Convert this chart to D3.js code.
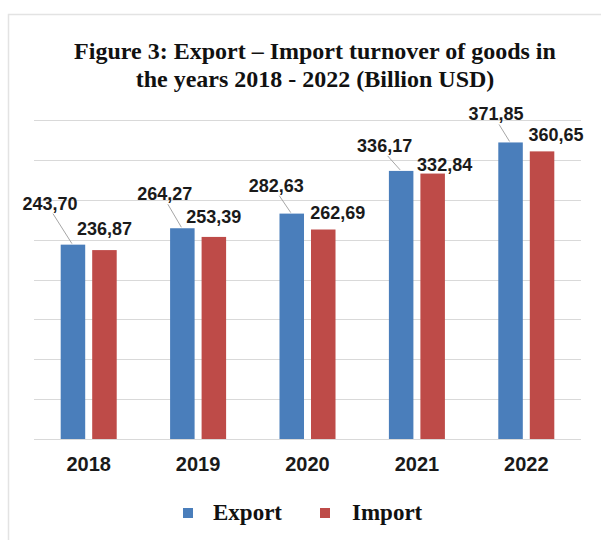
<!DOCTYPE html>
<html>
<head>
<meta charset="utf-8">
<script src="https://cdn.jsdelivr.net/npm/d3@7"></script>
<style>
  html, body { margin: 0; padding: 0; background: #fff; }
  svg { display: block; }
</style>
</head>
<body>
<svg id="chart" width="601" height="540"></svg>
<script>
// ---- data ----
const years = ["2018", "2019", "2020", "2021", "2022"];
const seriesNames = ["Export", "Import"];
const exportValues = [243.70, 264.27, 282.63, 336.17, 371.85];
const importValues = [236.87, 253.39, 262.69, 332.84, 360.65];
const yTicks = [0, 50, 100, 150, 200, 250, 300, 350, 400];
const titleLines = ["Figure 3: Export \u2013 Import turnover of goods in", "the years 2018 - 2022 (Billion USD)"];

// ---- layout (label nudges relative to bar top-centre, hand placed in the original) ----
const exportNudgeX = [-23, -17.5, -15.5, -16.5, -14.5];
const exportNudgeY = [-35, -28, -22, -19, -22];
const importNudgeX = [0, 0, 14.5, 12, 14];
const importNudgeY = [-15, -14, -11, -3, -10];

const colors = { Export: "#4a7ebb", Import: "#be4b48" };
const svg = d3.select("#chart");

// frame
svg.append("rect").attr("x", 8.5).attr("y", 14.5).attr("width", 620).attr("height", 560)
  .attr("fill", "none").attr("stroke", "#e3e3e3").attr("stroke-width", 1.5);

// title
svg.append("g").selectAll("text").data(titleLines).join("text")
  .attr("x", 315).attr("y", (d, i) => 59 + i * 28)
  .attr("text-anchor", "middle")
  .attr("font-family", "'Liberation Serif', 'Times New Roman', serif")
  .attr("font-weight", "bold").attr("font-size", 24).attr("fill", "#111")
  .text(d => d);

// scales
const x0 = d3.scaleBand().domain(years).range([34, 581]).paddingInner(0.488).paddingOuter(0.244);
const x1 = d3.scaleBand().domain(seriesNames).range([0, x0.bandwidth()]).paddingInner(0.222);
const y = d3.scaleLinear().domain([0, 400]).range([439, 120]);

// gridlines
svg.append("g").selectAll("line").data(yTicks).join("line")
  .attr("x1", 34).attr("x2", 581)
  .attr("y1", d => Math.round(y(d)) + 0.5).attr("y2", d => Math.round(y(d)) + 0.5)
  .attr("stroke", "#d9d9d9").attr("stroke-width", 1.2);

const rows = years.map((yr, i) => ({ year: yr, i, Export: exportValues[i], Import: importValues[i] }));

// bars
const groups = svg.append("g").selectAll("g").data(rows).join("g")
  .attr("transform", d => `translate(${x0(d.year)},0)`);
groups.selectAll("rect").data(d => seriesNames.map(s => ({ s, v: d[s] }))).join("rect")
  .attr("x", d => x1(d.s)).attr("width", x1.bandwidth())
  .attr("y", d => y(d.v)).attr("height", d => y(0) - y(d.v))
  .attr("fill", d => colors[d.s]);

// x axis labels
const xAxis = svg.append("g").attr("transform", "translate(0,439)")
  .call(d3.axisBottom(x0).tickSize(0).tickPadding(0));
xAxis.select(".domain").remove();
xAxis.selectAll("text")
  .attr("y", 32).attr("dy", null)
  .attr("font-family", "'Liberation Sans', Arial, sans-serif")
  .attr("font-weight", "bold").attr("font-size", 20).attr("fill", "#1a1a1a");

const fmt = v => v.toFixed(2).replace(".", ",");
const labelFont = "'Liberation Sans', Arial, sans-serif";

// export labels with leader lines
rows.forEach(d => {
  const cx = x0(d.year) + x1("Export") + x1.bandwidth() / 2;
  const top = y(d.Export);
  const lx = cx + exportNudgeX[d.i];
  const ly = top + exportNudgeY[d.i];
  svg.append("line").attr("x1", lx + 3).attr("y1", ly + 4).attr("x2", cx - 1).attr("y2", top - 1)
    .attr("stroke", "#a6a6a6").attr("stroke-width", 1);
  svg.append("text").attr("x", lx).attr("y", ly).attr("text-anchor", "middle")
    .attr("font-family", labelFont).attr("font-weight", "bold").attr("font-size", 18).attr("fill", "#1a1a1a")
    .text(fmt(d.Export));

  const ix = x0(d.year) + x1("Import") + x1.bandwidth() / 2;
  const itop = y(d.Import);
  svg.append("text").attr("x", ix + importNudgeX[d.i]).attr("y", itop + importNudgeY[d.i])
    .attr("text-anchor", "middle")
    .attr("font-family", labelFont).attr("font-weight", "bold").attr("font-size", 18).attr("fill", "#1a1a1a")
    .text(fmt(d.Import));
});

// legend
const legendPos = [{ s: "Export", sx: 183, tx: 213 }, { s: "Import", sx: 320, tx: 352 }];
const lg = svg.append("g");
lg.selectAll("rect").data(legendPos).join("rect")
  .attr("x", d => d.sx).attr("y", 508).attr("width", 10).attr("height", 10)
  .attr("fill", d => colors[d.s]);
lg.selectAll("text").data(legendPos).join("text")
  .attr("x", d => d.tx).attr("y", 520)
  .attr("font-family", "'Liberation Serif', 'Times New Roman', serif")
  .attr("font-weight", "bold").attr("font-size", 23).attr("fill", "#111")
  .text(d => d.s);
</script>
</body>
</html>
